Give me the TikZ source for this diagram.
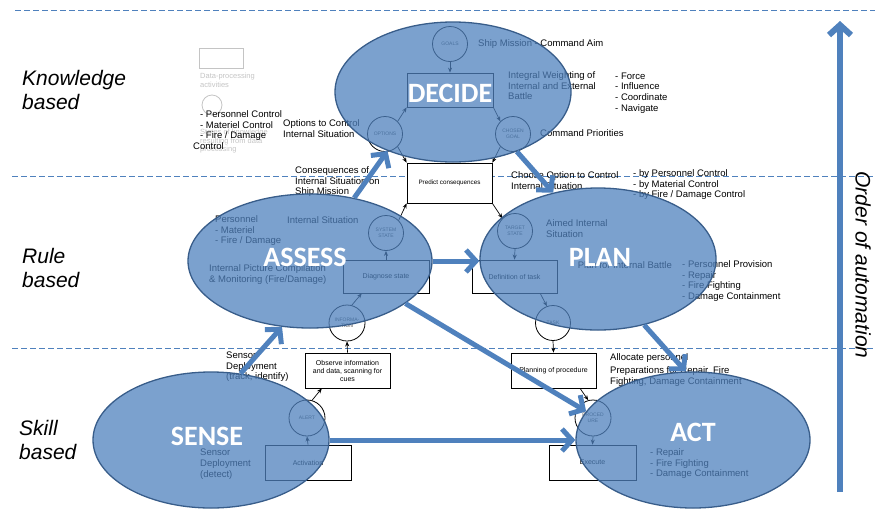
\documentclass[tikz,border=0pt]{standalone}
\usepackage{fontspec}
\setmainfont{Liberation Sans}
\newfontfamily\calibrifont{Carlito}
\usetikzlibrary{arrows.meta,shapes.geometric,calc}
\definecolor{phaseblue}{HTML}{4F81BD}
\definecolor{phaseedge}{HTML}{385D8A}
\definecolor{legendgray}{HTML}{C4C4C4}
\tikzset{
  phase/.style={ellipse, draw=phaseedge, line width=1.3pt, fill=phaseblue, fill opacity=0.75, inner sep=0pt},
  phasename/.style={font=\calibrifont\bfseries\fontsize{28}{30}\selectfont, text=white, inner sep=0pt},
  levelname/.style={font=\itshape\fontsize{21}{24}\selectfont, align=left, anchor=north west, inner sep=0pt},
  note/.style={font=\fontsize{9.5}{10.7}\selectfont, align=left, anchor=north west, inner sep=0pt},
  legendnote/.style={font=\fontsize{7.5}{8.6}\selectfont, text=legendgray, align=left, anchor=north west, inner sep=0pt},
  stepbox/.style={draw, line width=0.8pt, fill=white, minimum width=86pt, minimum height=35pt, inner sep=1pt, font=\fontsize{7}{8}\selectfont, align=center},
  state/.style={circle, draw, line width=0.8pt, fill=white, minimum size=35pt, inner sep=0pt, text=black!75, font=\fontsize{5}{5.6}\selectfont, align=center},
  flow/.style={line width=0.7pt, -{Stealth[length=5pt,width=4pt]}},
  bigflow/.style={draw=phaseblue, line width=5pt, -{Straight Barb[length=10pt,width=22pt]}},
  levelline/.style={draw=phaseblue, line width=1pt, dash pattern=on 6pt off 3pt},
}
\begin{document}
\begin{tikzpicture}[x=1pt, y=-1pt]
\useasboundingbox (0,0) rectangle (875,517);

% level separators
\coordinate (lvlAl) at (15,10);  \coordinate (lvlAr) at (875,10);
\coordinate (lvlBl) at (12,176); \coordinate (lvlBr) at (875,176);
\coordinate (lvlCl) at (12,348); \coordinate (lvlCr) at (875,348);
\draw[levelline] (lvlAl) -- (lvlAr);
\draw[levelline] (lvlBl) -- (lvlBr);
\draw[levelline] (lvlCl) -- (lvlCr);

% level names
\node[levelname] (knowledge) at (22,70) {Knowledge\\based};
\node[levelname] (rule) at (22,248) {Rule\\based};
\node[levelname] (skill) at (19,420) {Skill\\based};

% legend
\node[draw=legendgray, line width=0.8pt, minimum width=44pt, minimum height=20pt, inner sep=0pt] (legbox) at (221,58) {};
\node[legendnote] (legboxtext) at (200,73) {Data-processing\\activities};
\node[circle, draw=legendgray, line width=0.8pt, minimum size=20pt, inner sep=0pt] (legcirc) at (212,105) {};
\node[legendnote] (legcirctext) at (200,129) {States of knowledge\\resulting from data\\processing};
\node[note] (ctrllist) at (200,110.5) {- Personnel Control\\- Materiel Control\\- Fire / Damage\\\hspace*{-7pt}Control};

% decision ladder: boxes
\node[stepbox, minimum width=86pt, minimum height=34pt] (evalbox) at (450,90) {};
\node[stepbox, minimum width=85pt, minimum height=40pt, font=\fontsize{6.3}{7}\selectfont] (predict) at (449.5,183) {Predict consequences};
\node[stepbox, minimum height=33pt] (diagnose) at (386,276.5) {Diagnose state};
\node[stepbox, minimum width=85pt] (observe) at (347.5,370.5) {Observe information\\and data, scanning for\\cues};
\node[stepbox] (activation) at (308,462.5) {Activation};
\node[stepbox, minimum width=85pt, minimum height=33pt] (definition) at (514.5,276.5) {Definition of task};
\node[stepbox, minimum width=85pt] (planning) at (553.5,370.5) {Planning of procedure};
\node[stepbox, minimum width=87pt] (execute) at (592.5,462.5) {Execute};

% decision ladder: states
\node[state] (goals) at (450,44) {GOALS};
\node[state] (options) at (385,134) {OPTIONS};
\node[state] (chosen) at (513,134) {CHOSEN\\GOAL};
\node[state] (sysstate) at (386,233) {SYSTEM\\STATE};
\node[state, minimum size=36pt] (information) at (347,323) {INFORMA-\\TION};
\node[state, minimum size=36pt] (alert) at (307,418) {ALERT};
\node[state] (target) at (515,231) {TARGET\\STATE};
\node[state] (task) at (553,323) {TASK};
\node[state, minimum size=36pt] (procedure) at (593,418) {PROCED\\URE};

% decision ladder: links
\draw[flow] (goals.south) -- (evalbox.north);
\draw[flow] (options.45) -- (evalbox.south west);
\draw[flow] (evalbox.south east) -- (chosen.135);
\draw[flow] (options.315) -- (predict.north west);
\draw[flow] (chosen.225) -- (predict.north east);
\draw[flow] (sysstate.45) -- (predict.south west);
\draw[flow] (predict.south east) -- (target.135);
\draw[flow] (diagnose.north) -- (sysstate.south);
\draw[flow] (information.75) -- ($(diagnose.south west)!0.22!(diagnose.south east)$);
\draw[flow] (observe.north) -- (information.south);
\draw[flow] (alert.74) -- ($(observe.south west)!0.2!(observe.south east)$);
\draw[flow] (activation.north) -- (alert.south);
\draw[flow] (target.south) -- (definition.north);
\draw[flow] ($(definition.south west)!0.8!(definition.south east)$) -- (task.110);
\draw[flow] (task.south) -- (planning.north);
\draw[flow] ($(planning.south west)!0.81!(planning.south east)$) -- (procedure.105);
\draw[flow] (procedure.south) -- (execute.north);

% annotations
\node[note] (mission) at (478,39.5) {Ship Mission - Command Aim};
\node[note] (weighting) at (508,71.5) {Integral Weighting of\\Internal and External\\Battle};
\node[note] (means) at (615,72.5) {- Force\\- Influence\\- Coordinate\\- Navigate};
\node[note] (priorities) at (540,129.5) {Command Priorities};
\node[note] (optctrl) at (283,119.5) {Options to Control\\Internal Situation};
\node[note] (conseq) at (295,166.5) {Consequences of\\Internal Situation on\\Ship Mission};
\node[note] (choose) at (511,171.5) {Choose Option to Control\\Internal Situation};
\node[note] (bylist) at (633,169.5) {- by Personnel Control\\- by Material Control\\- by Fire / Damage Control};
\node[note] (assesslist) at (215,215.5) {Personnel\\- Materiel\\- Fire / Damage};
\node[note] (intsit) at (287,216.5) {Internal Situation};
\node[note] (picture) at (209,264.5) {Internal Picture Compilation\\\& Monitoring (Fire/Damage)};
\node[note] (aimed) at (546,219.5) {Aimed Internal\\Situation};
\node[note, anchor=north east] (battle) at (672,261.5) {Plan for Internal Battle};
\node[note] (provision) at (682,260.5) {- Personnel Provision\\- Repair\\- Fire Fighting\\- Damage Containment};
\node[note] (trackid) at (226,351.5) {Sensor\\Deployment\\(track, identify)};
\node[note] (allocate) at (610,353.5) {Allocate personnel};
\node[note] (prepare) at (610,366.5) {Preparations for Repair, Fire\\Fighting, Damage Containment};
\node[note] (detect) at (200,449) {Sensor\\Deployment\\(detect)};
\node[note] (actlist) at (650,448.5) {- Repair\\- Fire Fighting\\- Damage Containment};

% phases
\node[phase, minimum width=236pt, minimum height=140pt] (decide) at (453,92) {};
\node[phase, minimum width=244pt, minimum height=134pt] (assess) at (310,261) {};
\node[phase, minimum width=236pt, minimum height=142pt] (plan) at (598,259) {};
\node[phase, minimum width=236pt, minimum height=136pt] (sense) at (211,440) {};
\node[phase, minimum width=234pt, minimum height=136pt] (act) at (693,440) {};

\node[phasename] (decidename) at (450,93) {DECIDE};
\node[phasename] (assessname) at (305,257) {ASSESS};
\node[phasename] (planname) at (600,257) {PLAN};
\node[phasename] (sensename) at (207,436) {SENSE};
\node[phasename] (actname) at (693,432) {ACT};

% transitions between phases
\draw[bigflow] (sense.66) -- (assess.247);
\draw[bigflow] (assess.55) -- (decide.222);
\draw[bigflow] (decide.317) -- (plan.124);
\draw[bigflow] (assess.east) -- (assess.east -| plan.west);
\draw[bigflow] (plan.305) -- (act.96);
\draw[bigflow] (assess.336) -- (act.165);
\draw[bigflow] (sense.east) -- (act.west);

% automation axis
\coordinate (autolow) at (840,492);
\coordinate (autohigh) at (840,21);
\draw[draw=phaseblue, line width=6pt, -{Straight Barb[length=10pt,width=22pt]}] (autolow) -- (autohigh);
\node[font=\itshape\fontsize{21}{24}\selectfont, rotate=-90, inner sep=0pt] (autolabel) at (863,265) {Order of automation};
\end{tikzpicture}
\end{document}
